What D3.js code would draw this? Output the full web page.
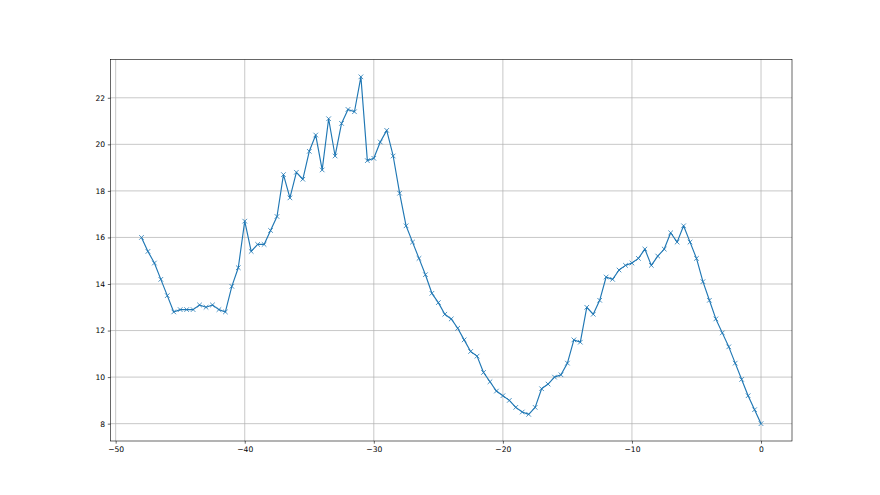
<!DOCTYPE html>
<html>
<head>
<meta charset="utf-8">
<script src="https://cdn.jsdelivr.net/npm/d3@7"></script>
<style>
  body { margin: 0; background: #fff; }
  #wrapper svg { display: block; }
  .tick text { font-family: "DejaVu Sans", sans-serif; font-size: 7.6px; fill: #000; }
</style>
</head>
<body>
<div id="wrapper"></div>
<script>
// x positions, one every half step
const xValues = [
  -48, -47.5, -47, -46.5, -46, -45.5, -45, -44.5, -44, -43.5,
  -43, -42.5, -42, -41.5, -41, -40.5, -40, -39.5, -39, -38.5,
  -38, -37.5, -37, -36.5, -36, -35.5, -35, -34.5, -34, -33.5,
  -33, -32.5, -32, -31.5, -31, -30.5, -30, -29.5, -29, -28.5,
  -28, -27.5, -27, -26.5, -26, -25.5, -25, -24.5, -24, -23.5,
  -23, -22.5, -22, -21.5, -21, -20.5, -20, -19.5, -19, -18.5,
  -18, -17.5, -17, -16.5, -16, -15.5, -15, -14.5, -14, -13.5,
  -13, -12.5, -12, -11.5, -11, -10.5, -10, -9.5, -9, -8.5,
  -8, -7.5, -7, -6.5, -6, -5.5, -5, -4.5, -4, -3.5,
  -3, -2.5, -2, -1.5, -1, -0.5, 0
]
// values
const yValues = [
  16.0, 15.4, 14.9, 14.2, 13.5, 12.8, 12.9, 12.9, 12.9, 13.1,
  13.0, 13.1, 12.9, 12.8, 13.9, 14.7, 16.7, 15.4, 15.7, 15.7,
  16.3, 16.9, 18.7, 17.7, 18.8, 18.5, 19.7, 20.4, 18.9, 21.1,
  19.5, 20.9, 21.5, 21.4, 22.9, 19.3, 19.4, 20.1, 20.6, 19.5,
  17.9, 16.5, 15.8, 15.1, 14.4, 13.6, 13.2, 12.7, 12.5, 12.1,
  11.6, 11.1, 10.9, 10.2, 9.8, 9.4, 9.2, 9.0, 8.7, 8.5,
  8.4, 8.7, 9.5, 9.7, 10.0, 10.1, 10.6, 11.6, 11.5, 13.0,
  12.7, 13.3, 14.3, 14.2, 14.6, 14.8, 14.9, 15.1, 15.5, 14.8,
  15.2, 15.5, 16.2, 15.8, 16.5, 15.8, 15.1, 14.1, 13.3, 12.5,
  11.9, 11.3, 10.6, 9.9, 9.2, 8.6, 8.0
]
const xTicks = [-50, -40, -30, -20, -10, 0]
const yTicks = [8, 10, 12, 14, 16, 18, 20, 22]

function drawChart() {
    const dataset = xValues.map((x, i) => ({ x: x, y: yValues[i] }))
    const xAccessor = d => d.x
    const yAccessor = d => d.y

    let dimensions = {
      width: 880,
      height: 495,
      margin: { top: 59.5, right: 88, bottom: 54, left: 110.5 },
    }
    dimensions.boundedWidth = dimensions.width - dimensions.margin.left - dimensions.margin.right
    dimensions.boundedHeight = dimensions.height - dimensions.margin.top - dimensions.margin.bottom

    const wrapper = d3.select("#wrapper")
        .append("svg")
        .attr("width", dimensions.width)
        .attr("height", dimensions.height)

    const bounds = wrapper.append("g")
        .attr("transform", `translate(${dimensions.margin.left}, ${dimensions.margin.top})`)

    // matplotlib style 5% padding around the data
    const [xMin, xMax] = d3.extent(dataset, xAccessor)
    const [yMin, yMax] = d3.extent(dataset, yAccessor)
    const xPad = (xMax - xMin) * 0.05
    const yPad = (yMax - yMin) * 0.05

    const xScaler = d3.scaleLinear()
        .domain([xMin - xPad, xMax + xPad])
        .range([0, dimensions.boundedWidth])

    const yScaler = d3.scaleLinear()
        .domain([yMin - yPad, yMax + yPad])
        .range([dimensions.boundedHeight, 0])

    // grid
    const grid = bounds.append("g")
    grid.selectAll(".vgrid")
        .data(xTicks)
        .join("line")
        .attr("x1", d => xScaler(d)).attr("x2", d => xScaler(d))
        .attr("y1", 0).attr("y2", dimensions.boundedHeight)
        .attr("stroke", "#b0b0b0").attr("stroke-width", 0.7)
    grid.selectAll(".hgrid")
        .data(yTicks)
        .join("line")
        .attr("y1", d => yScaler(d)).attr("y2", d => yScaler(d))
        .attr("x1", 0).attr("x2", dimensions.boundedWidth)
        .attr("stroke", "#b0b0b0").attr("stroke-width", 0.7)

    // line + x markers
    const lineGen = d3.line()
        .x(d => xScaler(xAccessor(d)))
        .y(d => yScaler(yAccessor(d)))

    bounds.append("path")
        .datum(dataset)
        .attr("d", lineGen)
        .attr("fill", "none")
        .attr("stroke", "#1f77b4")
        .attr("stroke-width", 1.15)
        .attr("stroke-linejoin", "round")

    const m = 2.3
    bounds.append("g").selectAll("path")
        .data(dataset)
        .join("path")
        .attr("d", d => {
            const cx = xScaler(xAccessor(d)), cy = yScaler(yAccessor(d))
            return `M${cx - m},${cy - m}L${cx + m},${cy + m}M${cx - m},${cy + m}L${cx + m},${cy - m}`
        })
        .attr("stroke", "#1f77b4")
        .attr("stroke-width", 0.8)

    // axes
    const xAxis = bounds.append("g")
        .attr("transform", `translate(0, ${dimensions.boundedHeight})`)
        .call(d3.axisBottom(xScaler).tickValues(xTicks).tickFormat(d => d < 0 ? "\u2212" + Math.abs(d) : d).tickSizeInner(2.7).tickSizeOuter(0).tickPadding(2.7))
    const yAxis = bounds.append("g")
        .call(d3.axisLeft(yScaler).tickValues(yTicks).tickSizeInner(2.7).tickSizeOuter(0).tickPadding(2.7))

    xAxis.select(".domain").remove()
    yAxis.select(".domain").remove()
    wrapper.selectAll(".tick line").attr("stroke", "#000").attr("stroke-width", 0.6)

    // frame
    bounds.append("rect")
        .attr("width", dimensions.boundedWidth)
        .attr("height", dimensions.boundedHeight)
        .attr("fill", "none")
        .attr("stroke", "#000")
        .attr("stroke-width", 0.6)
}

drawChart()
</script>
</body>
</html>
